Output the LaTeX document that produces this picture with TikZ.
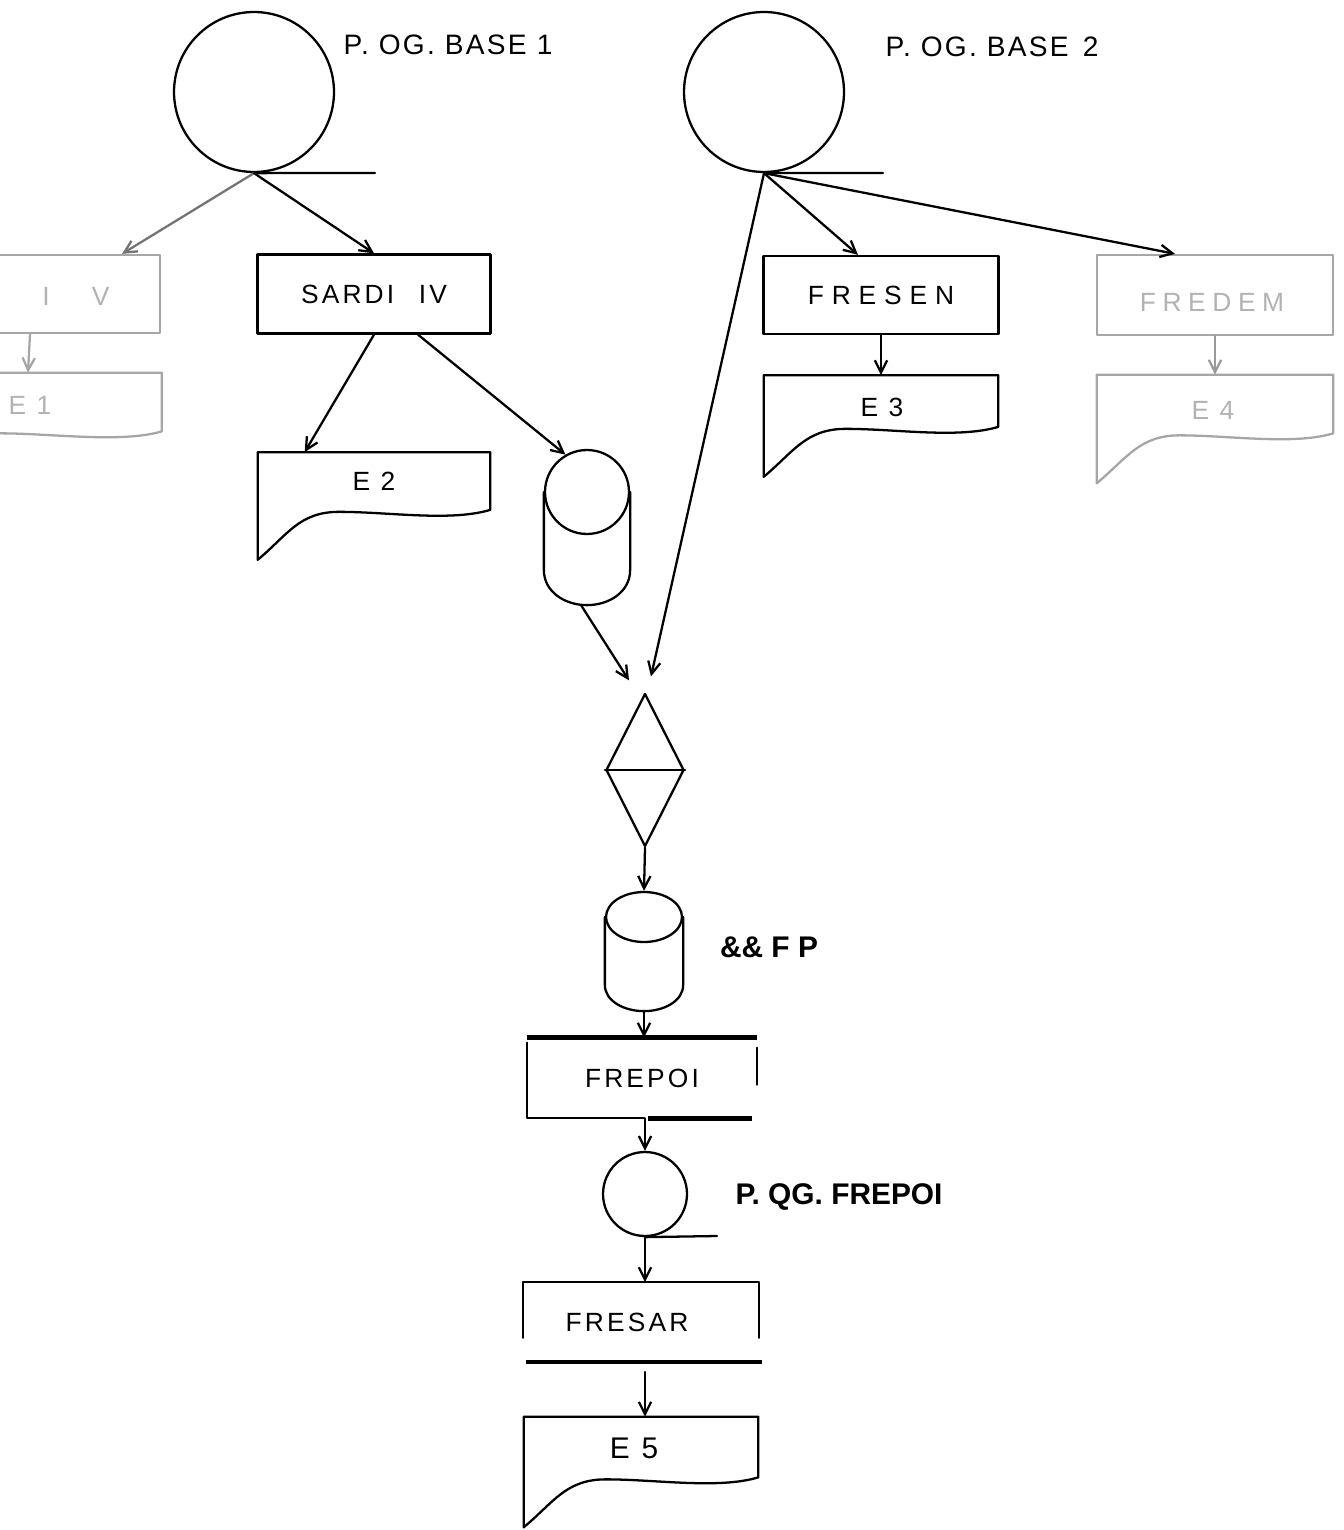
\documentclass[tikz,border=0pt]{standalone}
\usepackage{fontspec}
\setmainfont{Liberation Sans}
\newfontfamily\boxfont[LetterSpace=12]{Liberation Sans}
\newfontfamily\lblfont[LetterSpace=8]{Liberation Sans}
\usetikzlibrary{arrows.meta,calc,shapes.geometric}
\newcommand\bfnt{\boxfont\fontsize{15}{18}\selectfont}
\newcommand\docwave[2]{%
  \draw[ln,#2] (#1.south east) -- (#1.north east) -- (#1.north west) -- ($(#1.south west)+(0,50)$)
    .. controls +(30,-25) and +(-40,0) .. ($(#1.south west)!0.35!(#1.south east)+(0,2)$)
    .. controls +(50,0) and +(-40,12) .. (#1.south east);}
\begin{document}
\begin{tikzpicture}[x=0.02cm,y=-0.02cm,
  ln/.style={line width=1.3pt,line cap=round,line join=round},
  thickln/.style={line width=2.8pt},
  arr/.style={ln,-{Straight Barb[length=7pt,width=7pt]}},
  circ/.style={circle,draw,ln,inner sep=0pt},
  procbox/.style={draw,ln,inner sep=0pt,font=\bfnt},
  doc/.style={draw=none,inner sep=0pt,font=\bfnt},
  txt/.style={inner sep=0pt,font=\bfnt},
  fadedbox/.style={draw=black!35,text=black!30},
  fadedtext/.style={text=black!30},
  toplbl/.style={inner sep=0pt,font=\lblfont\fontsize{16}{19}\selectfont},
  boldlbl/.style={inner sep=0pt,font=\fontsize{17}{20}\selectfont\bfseries}]
\useasboundingbox (0,0) rectangle (1344,1530);
\clip (0,0) rectangle (1344,1530);

% top circles
\node[circ,minimum size=3.2cm] (pg1) at (254,92) {};
\coordinate (pg1e) at (375,173);
\draw[ln] (pg1.south) -- (pg1e);
\node[toplbl] (pg1l) at (448,45) {P. OG. BASE 1};

\node[circ,minimum size=3.2cm] (pg2) at (764,92) {};
\coordinate (pg2e) at (883,173);
\draw[ln] (pg2.south) -- (pg2e);
\node[toplbl] (pg2l) at (992,47) {P. OG. BASE\hspace{8pt}2};

% left column (faded, cut off by the edge)
\node[procbox,fadedbox,minimum width=4.8cm,minimum height=1.56cm] (lbox) at (40,294) {};
\node[txt,fadedtext] (lboxt) at (76,296) {I\hspace{24pt}V};
\node[doc,fadedtext,minimum width=4.94cm,minimum height=1.16cm] (e1) at (38,402) {};
\node[txt,fadedtext] (e1t) at (30,405) {E 1};
\docwave{e1}{draw=black!35}
\draw[arr,black!55] (pg1.south) -- ($(lbox.north)+(82,0)$);
\draw[arr,black!35] ($(lbox.south)+(-10,0)$) -- ($(e1.north)+(-10,0)$);

% SARDI IV
\node[procbox,minimum width=4.66cm,minimum height=1.58cm] (sardi) at (374,294) {SARDI\hspace{14pt}IV};
\draw[arr] (pg1.south) -- (sardi.north);
\node[doc,minimum width=4.64cm,minimum height=1.14cm] (e2) at (374,481) {E 2};
\docwave{e2}{}
\draw[arr] (sardi.south) -- ($(e2.north west)+(47,0)$);

% cylinder 1
\node[circ,minimum size=1.68cm] (cyl1) at (587,492) {};
\draw[ln] (cyl1.west) -- ($(cyl1.west)+(0,78)$) .. controls +(0,22) and +(-22,0) .. ($(cyl1.south)+(0,70)$)
  .. controls +(22,0) and +(0,22) .. ($(cyl1.east)+(0,78)$) -- (cyl1.east);
\coordinate (cyl1b) at ($(cyl1.south)+(-6,70)$);
\draw[arr] ($(sardi.south)+(44,0)$) -- (cyl1.120);

% FRESEN / E3
\node[procbox,minimum width=4.7cm,minimum height=1.56cm] (fresen) at (881,295) {\addfontfeature{LetterSpace=30}FRESEN};
\node[doc,minimum width=4.68cm,minimum height=1.02cm] (e3) at (881,401) {};
\node[txt] (e3t) at (882,407) {E 3};
\docwave{e3}{}
\draw[arr] (fresen.south) -- (e3.north);
\draw[arr] (pg2.south) -- ($(fresen.north)+(-23,0)$);

% FREDEM / E4 (faded)
\node[procbox,fadedbox,minimum width=4.72cm,minimum height=1.6cm] (fredem) at (1215,295) {};
\node[txt,fadedtext] (fredemt) at (1212,302) {\addfontfeature{LetterSpace=25}FREDEM};
\node[doc,minimum width=4.72cm,minimum height=1.16cm] (e4) at (1215,404) {};
\node[txt,fadedtext] (e4t) at (1213,410) {E 4};
\docwave{e4}{draw=black!35}
\draw[arr,black!40] (fredem.south) -- (e4.north);
\draw[arr] (pg2.south) -- ($(fredem.north)+(-40,0)$);

% diamond (merge)
\node[diamond,draw,ln,inner sep=0pt,minimum width=1.56cm,minimum height=3.06cm] (dia) at (645,770) {};
\draw[ln] (dia.west) -- (dia.east);
\draw[arr] (cyl1b) -- ($(dia.north)+(-16,-12)$);
\draw[arr] (pg2.south) -- ($(dia.north)+(6,-16)$);

% cylinder 2 (&& FP)
\node[ellipse,draw,ln,inner sep=0pt,minimum width=1.52cm,minimum height=1cm] (cyl2) at (644,917) {};
\draw[ln] (cyl2.west) -- ($(cyl2.west)+(0,68)$) .. controls +(0,16) and +(-20,0) .. ($(cyl2.south)+(0,68)$)
  .. controls +(20,0) and +(0,16) .. ($(cyl2.east)+(0,68)$) -- (cyl2.east);
\coordinate (cyl2b) at ($(cyl2.south)+(0,68)$);
\node[boldlbl] (fpl) at (769,947) {\&\& F P};
\draw[arr] (dia.south) -- (cyl2.north);

% FREPOI
\node[inner sep=0pt,minimum width=4.6cm,minimum height=1.6cm,font=\bfnt] (frepoi) at (642,1078) {FREPOI};
\draw[thickln] (frepoi.north west) -- (frepoi.north east);
\draw[ln] ($(frepoi.north west)+(0,5)$) -- (frepoi.south west) -- ($(frepoi.south)+(2,0)$);
\draw[ln] ($(frepoi.north east)+(0,10)$) -- ($(frepoi.north east)+(0,47)$);
\draw[thickln] ($(frepoi.south)+(6,0)$) -- ($(frepoi.south east)+(-5,0)$);
\draw[arr] (cyl2b) -- (cyl2b |- frepoi.north);

% P. QG. FREPOI
\node[circ,minimum size=1.68cm] (pg3) at (645,1194) {};
\draw[arr] (pg3.north |- frepoi.south) -- (pg3.north);
\coordinate (pg3e) at (717,1236);
\draw[ln] (pg3.south) -- (pg3e);
\node[boldlbl] (pg3l) at (839,1197) {P. QG. FREPOI};

% FRESAR
\node[inner sep=0pt,minimum width=4.72cm,minimum height=1.1cm] (fresar) at (641,1310) {};
\draw[ln] (fresar.south west) -- (fresar.north west) -- (fresar.north east) -- (fresar.south east);
\node[txt] (fresart) at (627,1322) {FRESAR};
\draw[arr] (pg3.south) -- (pg3.south |- fresar.north);
\coordinate (fsl) at (526,1362);
\coordinate (fsr) at (762,1362);
\draw[thickln] (fsl) -- (fsr);

% E5
\node[doc,minimum width=4.68cm,minimum height=1.2cm] (e5) at (641,1447) {};
\node[inner sep=0pt,font=\boxfont\fontsize{17}{20}\selectfont] (e5t) at (634,1448) {E 5};
\docwave{e5}{}
\draw[arr] ($(pg3.south |- fsl)+(0,10)$) -- (pg3.south |- e5.north);
\end{tikzpicture}
\end{document}
